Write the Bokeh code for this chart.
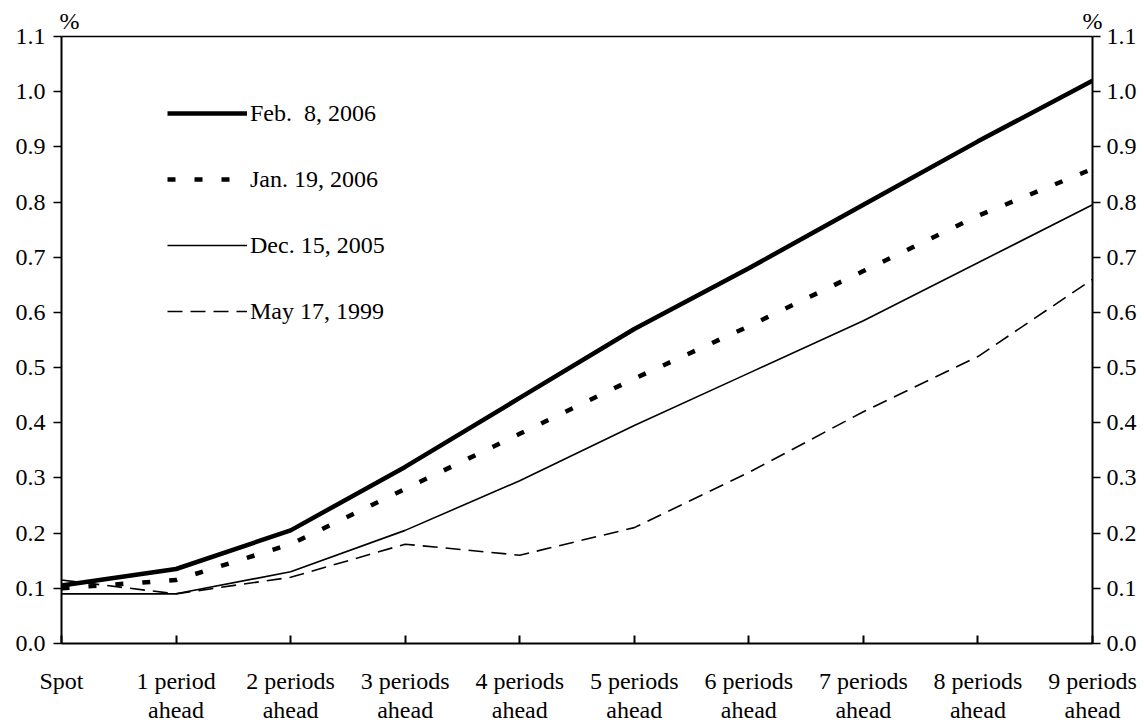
from bokeh.plotting import figure
from bokeh.models import (Range1d, LinearAxis, FixedTicker, Legend, LegendItem,
                          PrintfTickFormatter)
from bokeh.embed import file_html
from bokeh.resources import INLINE

# ---- data ----
categories = ["Spot", "1 period\nahead", "2 periods\nahead", "3 periods\nahead",
              "4 periods\nahead", "5 periods\nahead", "6 periods\nahead",
              "7 periods\nahead", "8 periods\nahead", "9 periods\nahead"]
x_pos = list(range(len(categories)))
feb_8_2006 = [0.105, 0.135, 0.205, 0.32, 0.445, 0.57, 0.68, 0.795, 0.91, 1.02]
jan_19_2006 = [0.10, 0.115, 0.18, 0.28, 0.38, 0.48, 0.575, 0.675, 0.775, 0.86]
dec_15_2005 = [0.09, 0.09, 0.13, 0.205, 0.295, 0.395, 0.49, 0.585, 0.69, 0.795]
may_17_1999 = [0.115, 0.09, 0.12, 0.18, 0.16, 0.21, 0.31, 0.42, 0.52, 0.66]
y_ticks = [0.0, 0.1, 0.2, 0.3, 0.4, 0.5, 0.6, 0.7, 0.8, 0.9, 1.0, 1.1]
series_labels = ["Feb.  8, 2006", "Jan. 19, 2006", "Dec. 15, 2005", "May 17, 1999"]
unit_label = "%"

FONT = "Liberation Serif"
FS = "24px"

p = figure(frame_width=1031, frame_height=607, output_backend="svg",
           toolbar_location=None,
           x_range=Range1d(0, 9), y_range=Range1d(0, 1.1),
           min_border_left=61, min_border_right=52, min_border_top=36,
           min_border_bottom=81, x_axis_location=None, y_axis_location=None,
           background_fill_color="white", border_fill_color="white")
p.grid.visible = False
p.outline_line_color = None

# bottom axis
xa = LinearAxis(ticker=FixedTicker(ticks=x_pos),
                major_label_overrides={i: c for i, c in zip(x_pos, categories)})
xa.axis_line_width = 2
xa.major_tick_in = 8
xa.major_tick_out = 0
xa.major_tick_line_width = 2
xa.minor_tick_line_color = None
xa.major_label_standoff = 24
xa.major_label_text_font = FONT
xa.major_label_text_font_size = FS
xa.major_label_text_color = "black"
xa.major_label_text_line_height = 1.12
p.add_layout(xa, "below")

# top line carrying the "%" unit marks
ta = LinearAxis(ticker=FixedTicker(ticks=[0.07, 9]),
                major_label_overrides={0.07: unit_label, 9: unit_label})
ta.axis_line_width = 1.5
ta.major_tick_in = 0
ta.major_tick_out = 0
ta.minor_tick_line_color = None
ta.major_label_standoff = 3
ta.major_label_text_font = FONT
ta.major_label_text_font_size = FS
ta.major_label_text_color = "black"
p.add_layout(ta, "above")

for side, standoff in (("left", 8), ("right", 6)):
    ya = LinearAxis(ticker=FixedTicker(ticks=y_ticks),
                    formatter=PrintfTickFormatter(format="%.1f"))
    ya.axis_line_width = 2
    ya.major_tick_in = 0
    ya.major_tick_out = 8
    ya.major_tick_line_width = 1.5
    ya.minor_tick_line_color = None
    ya.major_label_standoff = standoff
    ya.major_label_text_font = FONT
    ya.major_label_text_font_size = FS
    ya.major_label_text_color = "black"
    p.add_layout(ya, side)

r1 = p.line(x_pos, feb_8_2006, line_color="black", line_width=4.5)
r2 = p.line(x_pos, jan_19_2006, line_color="black", line_width=4.5, line_dash="8 19")
r3 = p.line(x_pos, dec_15_2005, line_color="black", line_width=1.6)
r4 = p.line(x_pos, may_17_1999, line_color="black", line_width=1.6, line_dash="15 8")

legend = Legend(items=[LegendItem(label=l, renderers=[r]) for l, r in
                       zip(series_labels, [r1, r2, r3, r4])],
                location=(106, 317), orientation="vertical",
                glyph_width=80, glyph_height=30, label_height=30, spacing=36,
                label_standoff=3, padding=0, margin=0,
                border_line_color=None, background_fill_alpha=0,
                label_text_font=FONT, label_text_font_size=FS,
                label_text_color="black")
p.add_layout(legend, "center")

open("out.html", "w").write(file_html(p, INLINE))
